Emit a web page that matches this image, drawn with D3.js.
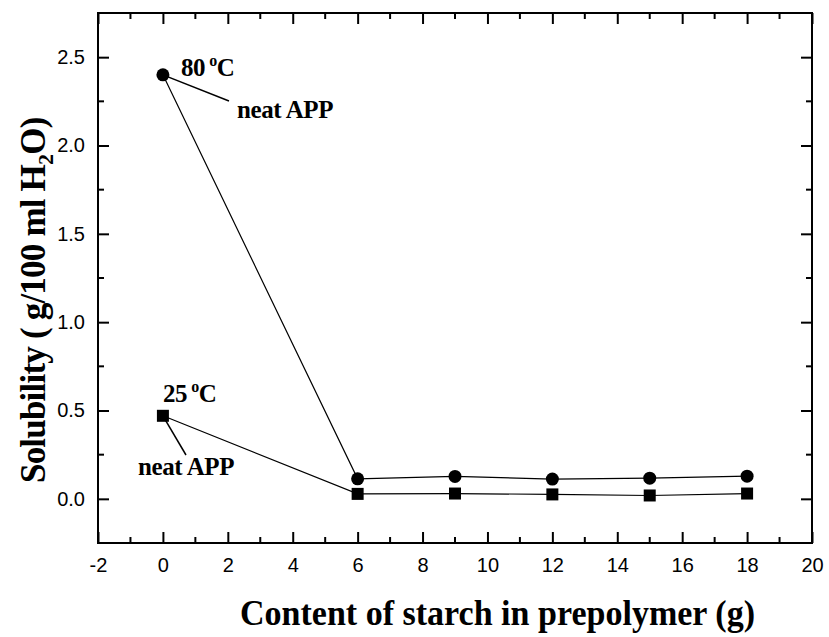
<!DOCTYPE html>
<html><head><meta charset="utf-8">
<script src="https://cdn.jsdelivr.net/npm/d3@7/dist/d3.min.js"></script>
<style>body{margin:0;background:#fff}</style>
</head><body>
<svg id="c" width="829" height="637"></svg>
<script>
const starch = [0, 6, 9, 12, 15, 18];
const sol80 = [2.40, 0.113, 0.127, 0.112, 0.117, 0.128];
const sol25 = [0.47, 0.028, 0.030, 0.025, 0.019, 0.030];
const xTicks = [-2, 0, 2, 4, 6, 8, 10, 12, 14, 16, 18, 20];
const yTicks = [0.0, 0.5, 1.0, 1.5, 2.0, 2.5];

const svg = d3.select("#c");
const L = 98, R = 812, T = 13, B = 543;
const x = d3.scaleLinear().domain([-2, 20]).range([L, R]);
const y = d3.scaleLinear().domain([-0.25, 2.75]).range([B, T]);

const tickFont = "'Liberation Sans', Arial, sans-serif";
const serif = "'Liberation Serif', 'Times New Roman', serif";
const TF = 20;

// frame
svg.append("rect").attr("x", L).attr("y", T).attr("width", R - L).attr("height", B - T)
  .attr("fill", "none").attr("stroke", "#000").attr("stroke-width", 2);

const xMinor = d3.range(-1, 20, 2);
const yMinor = [-0.25, 0.25, 0.75, 1.25, 1.75, 2.25, 2.75];

// bottom axis
const gb = svg.append("g").attr("transform", `translate(0,${B})`)
  .call(d3.axisBottom(x).tickValues(xTicks).tickSizeInner(-11).tickSizeOuter(0).tickPadding(15).tickFormat(d => String(d)));
gb.select(".domain").remove();
gb.selectAll("text").attr("font-family", tickFont).attr("font-size", TF).attr("fill", "#000");
gb.selectAll("line").attr("stroke-width", 2);
// top
const gt = svg.append("g").attr("transform", `translate(0,${T})`)
  .call(d3.axisTop(x).tickValues(xTicks).tickSizeInner(-11).tickSizeOuter(0).tickFormat(""));
gt.select(".domain").remove(); gt.selectAll("line").attr("stroke-width", 2);
// minor x
[[B, -6], [T, 6]].forEach(([yy, len]) => {
  svg.append("g").selectAll("line").data(xMinor).join("line")
    .attr("x1", d => x(d)).attr("x2", d => x(d)).attr("y1", yy).attr("y2", yy + len)
    .attr("stroke", "#000").attr("stroke-width", 2);
});
// left axis
const gl = svg.append("g").attr("transform", `translate(${L},0)`)
  .call(d3.axisLeft(y).tickValues(yTicks).tickSizeInner(-11).tickSizeOuter(0).tickPadding(13).tickFormat(d3.format(".1f")));
gl.select(".domain").remove();
gl.selectAll("text").attr("font-family", tickFont).attr("font-size", TF).attr("fill", "#000");
gl.selectAll("line").attr("stroke-width", 2);
const gr = svg.append("g").attr("transform", `translate(${R},0)`)
  .call(d3.axisRight(y).tickValues(yTicks).tickSizeInner(-11).tickSizeOuter(0).tickFormat(""));
gr.select(".domain").remove(); gr.selectAll("line").attr("stroke-width", 2);
[[L, 6], [R, -6]].forEach(([xx, len]) => {
  svg.append("g").selectAll("line").data(yMinor).join("line")
    .attr("y1", d => y(d)).attr("y2", d => y(d)).attr("x1", xx).attr("x2", xx + len)
    .attr("stroke", "#000").attr("stroke-width", 2);
});

// lines
const line = d3.line().x(d => x(d[0])).y(d => y(d[1]));
const d80 = starch.map((s, i) => [s, sol80[i]]);
const d25 = starch.map((s, i) => [s, sol25[i]]);
[d80, d25].forEach(d => svg.append("path").datum(d).attr("d", line)
  .attr("fill", "none").attr("stroke", "#000").attr("stroke-width", 1.2));

svg.append("g").selectAll("circle").data(d80).join("circle")
  .attr("cx", d => x(d[0])).attr("cy", d => y(d[1])).attr("r", 6.5).attr("fill", "#000");
svg.append("g").selectAll("rect").data(d25).join("rect")
  .attr("x", d => x(d[0]) - 6).attr("y", d => y(d[1]) - 6).attr("width", 12).attr("height", 12).attr("fill", "#000");

// annotations
function label(tx, ty, base, sup, tail) {
  const t = svg.append("text").attr("x", tx).attr("y", ty).attr("font-family", serif)
    .attr("font-weight", "bold").attr("font-size", 25).attr("letter-spacing", -0.4).attr("fill", "#000");
  t.append("tspan").text(base);
  if (sup) {
    t.append("tspan").attr("font-size", 16).attr("dy", -10).attr("dx", 4).text(sup);
    t.append("tspan").attr("dy", 10).text(tail);
  }
  return t;
}
label(181, 76, "80", "o", "C");
label(237, 118, "neat APP");
label(163, 402, "25", "o", "C");
label(138, 475, "neat APP");
svg.append("line").attr("x1", x(0)).attr("y1", y(sol80[0])).attr("x2", 229).attr("y2", 101)
  .attr("stroke", "#000").attr("stroke-width", 1.5);
svg.append("line").attr("x1", x(0)).attr("y1", y(sol25[0])).attr("x2", 186).attr("y2", 455)
  .attr("stroke", "#000").attr("stroke-width", 1.5);

// axis titles
svg.append("text").attr("x", 240).attr("y", 625)
  .attr("font-family", serif).attr("font-weight", "bold").attr("font-size", 35)
  .attr("textLength", 515).attr("lengthAdjust", "spacingAndGlyphs")
  .attr("fill", "#000").text("Content of starch in prepolymer (g)");
const yt = svg.append("text").attr("transform", "translate(45,483) rotate(-90)")
  .attr("font-family", serif).attr("font-weight", "bold").attr("font-size", 35)
  .attr("letter-spacing", -0.8).attr("fill", "#000");
yt.append("tspan").text("Solubility ( g/100 ml H");
yt.append("tspan").attr("font-size", 22).attr("dy", 8).text("2");
yt.append("tspan").attr("dy", -8).text("O)");
</script>
</body></html>
